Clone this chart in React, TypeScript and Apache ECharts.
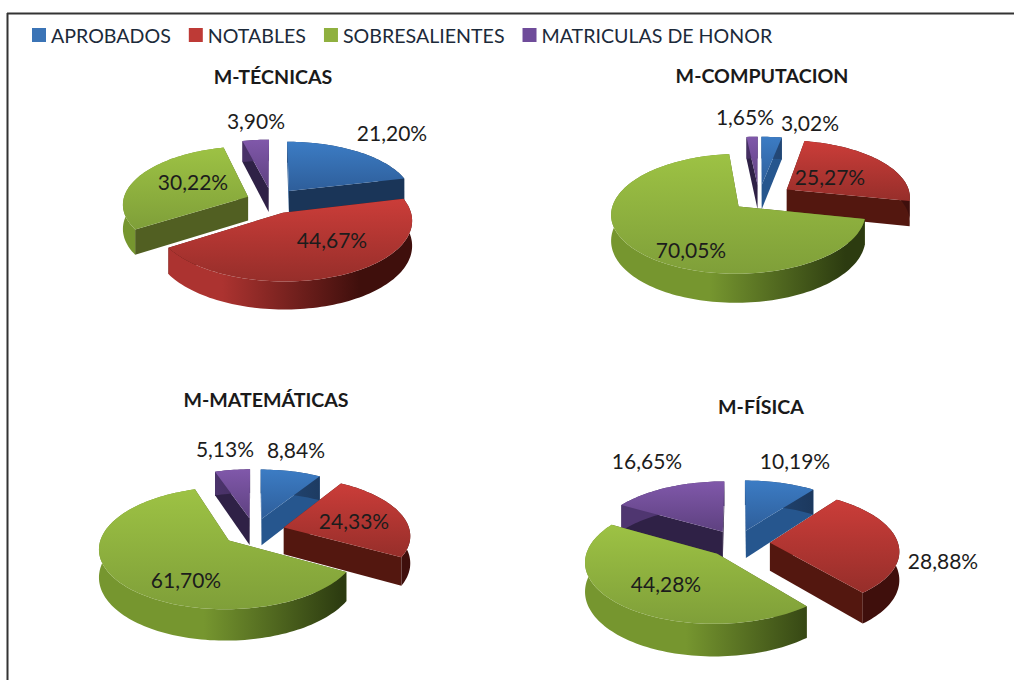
import React, { useEffect, useRef } from "react";
import * as echarts from "echarts";

const categories = ["APROBADOS", "NOTABLES", "SOBRESALIENTES", "MATRICULAS DE HONOR"];
const pieTitles = ["M-TÉCNICAS", "M-COMPUTACION", "M-MATEMÁTICAS", "M-FÍSICA"];
const tecnicas = [21.2, 44.67, 30.22, 3.9];
const computacion = [3.02, 25.27, 70.05, 1.65];
const matematicas = [8.84, 24.33, 61.7, 5.13];
const fisica = [10.19, 28.88, 44.28, 16.65];
const pieValues = [tecnicas, computacion, matematicas, fisica];

// layout, kept apart from the data
const FONT = "Lato";
const pieLayout = [
  { cx: 272, cy: 201, R: 125, depth: 24, explode: [28, 27, 26, 28], title: [273, 77],
    labels: [[392, 132], [332, 239], [193, 181], [256, 120]] },
  { cx: 759, cy: 198, R: 124, depth: 25, explode: [29, 34, 27, 29], title: [762, 76],
    labels: [[810, 122], [830, 176], [691, 249], [745, 116]] },
  { cx: 254, cy: 531, R: 126, depth: 27, explode: [28, 31, 32, 28], title: [266, 400],
    labels: [[296, 449], [354, 520], [186, 579], [225, 448]] },
  { cx: 737, cy: 543, R: 128, depth: 28, explode: [29, 33, 30, 29], title: [761, 407],
    labels: [[795, 460], [943, 560], [666, 583], [647, 460]] },
];
const TILT = 0.46;
const PERSPECTIVE = 0.12;

const legendColors = ["#3B74B6", "#BE3A36", "#8FB03F", "#6F4C9A"];
const topColors = [
  ["#3C7CC4", "#2E5E9A"],
  ["#CB3D39", "#962E2A"],
  ["#9DC244", "#7F9F39"],
  ["#8058AA", "#5E4180"],
];
const wallDark = ["#1A3558", "#53170F", "#515F22", "#2F2146"];
const wallSoft = ["#26568E", "#53170F", "#515F22", "#2F2146"];
const rimColors = [
  ["#2C5A94", "#1A3558"],
  ["#AC3330", "#3F0F0C"],
  ["#76962F", "#2C3B10"],
  ["#4F3670", "#2A1C40"],
];

function makeProjector(l: any) {
  return (u: number, v: number, z: number) => {
    const w = 1 + PERSPECTIVE * v;
    return [l.cx + (l.R * u) / w, l.cy - (l.R * TILT * v) / w + (z * l.depth) / w];
  };
}

function makeRenderItem(pieIdx: number) {
  const l = pieLayout[pieIdx];
  const proj = makeProjector(l);
  return (_params: any, api: any) => {
    const value = api.value(0);
    const start = api.value(1);
    const end = api.value(2);
    const idx = api.value(3);
    const mid = (start + end) / 2;
    const ox = (Math.sin(mid) * l.explode[idx]) / l.R;
    const oy = (Math.cos(mid) * l.explode[idx]) / l.R;
    const angles: number[] = [];
    const n = Math.max(4, Math.ceil((end - start) / 0.03));
    for (let i = 0; i <= n; i++) angles.push(start + ((end - start) * i) / n);
    const rim = (z: number) => angles.map((a) => proj(Math.sin(a) + ox, Math.cos(a) + oy, z));
    const apexT = proj(ox, oy, 0);
    const apexB = proj(ox, oy, 1);
    const rimT = rim(0);
    const rimB = rim(1);
    const radial = (a: number, pT: number[], pB: number[]) => ({
      type: "polygon",
      silent: true,
      shape: { points: [apexT, pT, pB, apexB] },
      style: { fill: a < 0.9 ? wallSoft[idx] : wallDark[idx] },
    });
    const children: any[] = [
      radial(start, rimT[0], rimB[0]),
      radial(end, rimT[n], rimB[n]),
      {
        type: "polygon",
        silent: true,
        shape: { points: [...rimT, ...rimB.slice().reverse()] },
        style: {
          fill: new echarts.graphic.LinearGradient(
            l.cx - l.R, 0, l.cx + l.R, 0,
            [
              { offset: 0, color: rimColors[idx][0] },
              { offset: 0.3, color: rimColors[idx][0] },
              { offset: 0.85, color: rimColors[idx][1] },
              { offset: 1, color: rimColors[idx][1] },
            ],
            true
          ),
        },
      },
      {
        type: "polygon",
        silent: true,
        shape: { points: [apexT, ...rimT] },
        style: {
          fill: new echarts.graphic.LinearGradient(0, 0, 0, 1, [
            { offset: 0, color: topColors[idx][0] },
            { offset: 1, color: topColors[idx][1] },
          ]),
        },
      },
    ];
    const pos = l.labels[idx];
    return {
      type: "group",
      children: [
        ...children,
        {
          type: "text",
          silent: true,
          z2: 100,
          style: {
            x: pos[0],
            y: pos[1],
            text: value.toFixed(2).replace(".", ",") + "%",
            fill: "#1c1c1c",
            font: `21px ${FONT}`,
            textAlign: "center",
            textVerticalAlign: "middle",
          },
        },
      ],
    };
  };
}

function sliceRows(values: number[]) {
  const total = values.reduce((a, b) => a + b, 0);
  let acc = 0;
  const rows = values.map((v, i) => {
    const s = (acc / total) * Math.PI * 2;
    acc += v;
    const e = (acc / total) * Math.PI * 2;
    return [v, s, e, i];
  });
  // back slices are painted first
  return rows.sort((a, b) => Math.cos((b[1] + b[2]) / 2) - Math.cos((a[1] + a[2]) / 2));
}

export default function App() {
  const ref = useRef<HTMLDivElement>(null);
  useEffect(() => {
    document.body.style.margin = "0";
    const chart = echarts.init(ref.current!, null, { renderer: "svg" });
    chart.setOption({
      animation: false,
      backgroundColor: "#ffffff",
      legend: {
        left: 27,
        top: 20,
        icon: "rect",
        itemWidth: 14,
        itemHeight: 14,
        itemGap: 18,
        data: categories,
        selectedMode: false,
        textStyle: { fontFamily: FONT, fontSize: 19.6, color: "#1c2a3a", padding: [0, 0, 0, 0] },
      },
      title: pieTitles.map((t, i) => ({
        text: t,
        left: pieLayout[i].title[0] - 5,
        top: pieLayout[i].title[1] - 16,
        textAlign: "center",
        textStyle: { fontFamily: FONT, fontSize: 19.6, fontWeight: "bold", color: "#1a1a1a" },
      })),
      graphic: [
        { type: "line", silent: true, shape: { x1: 7, y1: 13.5, x2: 1014, y2: 13.5 }, style: { stroke: "#333", lineWidth: 2 } },
        { type: "line", silent: true, shape: { x1: 7.5, y1: 13, x2: 7.5, y2: 680 }, style: { stroke: "#333", lineWidth: 2 } },
      ],
      series: [
        ...categories.map((c, i) => ({
          type: "custom",
          name: c,
          coordinateSystem: "none",
          itemStyle: { color: legendColors[i] },
          data: [],
          renderItem: () => null,
        })),
        ...pieValues.map((vals, i) => ({
          type: "custom",
          name: pieTitles[i],
          coordinateSystem: "none",
          silent: true,
          data: sliceRows(vals),
          renderItem: makeRenderItem(i),
        })),
      ],
    });
    return () => chart.dispose();
  }, []);
  return <div ref={ref} style={{ position: "fixed", left: 0, top: 0, width: 1014, height: 680 }} />;
}
